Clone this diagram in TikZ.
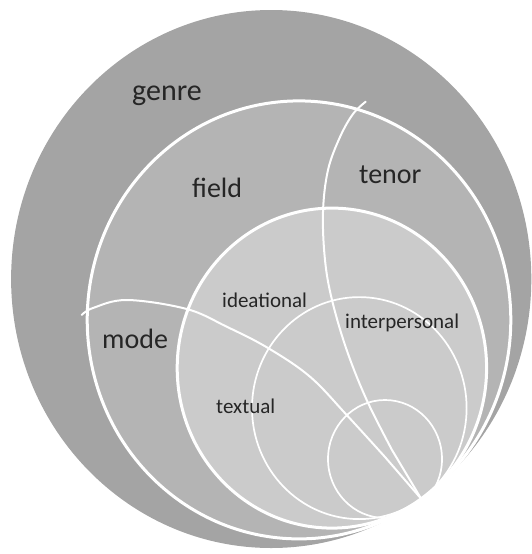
\documentclass[tikz,border=0pt]{standalone}
\usepackage{fontspec}
\setmainfont{Carlito}
\definecolor{genregrey}{HTML}{A4A4A4}
\definecolor{fieldgrey}{HTML}{B4B4B4}
\definecolor{metagrey}{HTML}{CBCBCB}
\definecolor{labelgrey}{HTML}{262626}
\begin{document}
\begin{tikzpicture}[x=1pt,y=-1pt,
  ring/.style={draw=white, line width=3pt},
  thin ring/.style={draw=white, line width=1.7pt},
  divider/.style={draw=white, line width=2pt, line cap=round},
  big label/.style={font=\fontsize{28}{32}\selectfont, text=labelgrey, anchor=base west, inner sep=0pt},
  small label/.style={font=\fontsize{21}{25}\selectfont, text=labelgrey, anchor=base west, inner sep=0pt}]
\useasboundingbox (0,0) rectangle (531,554);

% common point where the nested circles touch the outer one
\coordinate (touch) at (421.2,498.8);

% context of culture and of situation
\fill[genregrey] (271.2,279) ellipse [x radius=260.1, y radius=269];
\path[fill=fieldgrey, ring] (299.0,319.9) ellipse [x radius=211.8, y radius=219];
% metafunctions
\path[fill=metagrey, ring] (331.9,368.1) ellipse [x radius=154.7, y radius=160];
\draw[thin ring] (359.3,408.1) ellipse [x radius=107.3, y radius=111];
\draw[thin ring] (385,459) ellipse [x radius=57, y radius=59];

% tenor boundary
\draw[divider] plot[smooth, tension=0.6] coordinates {(365.7,101.7) (353,114) (340,137) (328,170) (323,212) (325,260) (332,300) (346.7,350) (366.7,400) (392,450)} -- (touch);
% mode boundary
\draw[divider] plot[smooth, tension=0.6] coordinates {(81.7,315) (93,308) (127,300) (186.7,309) (226.7,326.7) (268,348) (310,376.7) (346.7,415) (385,457)} -- (touch);

% labels
\node[big label, font=\fontsize{30}{34}\selectfont] (genre) at (132,100) {genre};
\node[big label] (field) at (192,197) {field};
\node[big label] (tenor) at (359,183) {tenor};
\node[big label] (mode) at (102,348) {mode};
\node[small label] (ideational) at (222,307) {ideational};
\node[small label] (interpersonal) at (345,328) {interpersonal};
\node[small label] (textual) at (216,413) {textual};
\end{tikzpicture}
\end{document}
